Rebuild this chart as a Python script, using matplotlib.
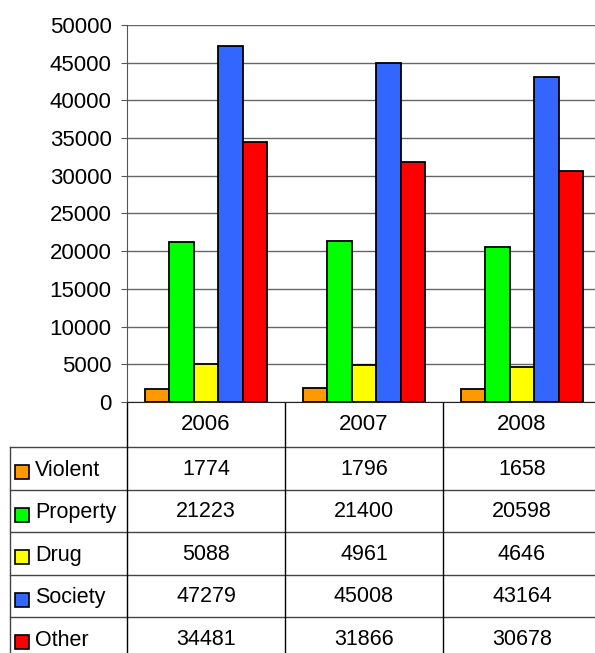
import matplotlib.pyplot as plt
from matplotlib.patches import Rectangle
from matplotlib.transforms import blended_transform_factory

plt.rcParams['font.family'] = ['Liberation Sans', 'DejaVu Sans']

years = ['2006', '2007', '2008']
categories = ['Violent', 'Property', 'Drug', 'Society', 'Other']
violent = [1774, 1796, 1658]
property_ = [21223, 21400, 20598]
drug = [5088, 4961, 4646]
society = [47279, 45008, 43164]
other = [34481, 31866, 30678]
colors = ['#ff9900', '#00ff00', '#ffff00', '#3366ff', '#ff0000']

W, H = 595, 653
fig = plt.figure(figsize=(W / 100, H / 100), dpi=100)
ax = fig.add_axes([127 / W, 1 - 402 / H, 474 / W, 377 / H])

series = [violent, property_, drug, society, other]
bw = 0.155
for i, (vals, c) in enumerate(zip(series, colors)):
    xs = [j + (i - 2) * bw for j in range(len(years))]
    ax.bar(xs, vals, width=bw, color=c, edgecolor='black', linewidth=1.3, zorder=3)

ax.set_xlim(-0.5, len(years) - 0.5)
ax.set_ylim(0, 50000)
ax.set_yticks(range(0, 50001, 5000))
ax.yaxis.grid(True, color='#666666', linewidth=1)
ax.set_axisbelow(True)
for s in ['top', 'right']:
    ax.spines[s].set_visible(False)
ax.spines['left'].set_color('#555555')
ax.spines['bottom'].set_color('#222222')
ax.tick_params(axis='y', length=4, color='#555555', labelsize=16, pad=7)
ax.set_xticks([])

# table under the chart
tab = fig.add_axes([0, 0, 1, 1], zorder=-1)
tab.set_xlim(0, W)
tab.set_ylim(H, 0)
tab.axis('off')
tr = blended_transform_factory(ax.transData, tab.transData)

top, head_bot, rh = 402, 447, 42.5
row_edges = [head_bot + k * rh for k in range(len(categories) + 1)]
for y in row_edges:
    tab.plot([10, W + 10], [y, y], color='#444444', lw=1, clip_on=False)
tab.plot([10, 10], [head_bot, H + 10], color='#444444', lw=1)
for j in range(len(years)):
    tab.plot([j - 0.5, j - 0.5], [top, H + 10], color='black', lw=1, transform=tr)
    tab.text(j, (top + head_bot) / 2, years[j], transform=tr, ha='center',
             va='center', fontsize=16)

for r, (name, vals, c) in enumerate(zip(categories, series, colors)):
    yc = (row_edges[r] + row_edges[r + 1]) / 2
    tab.add_patch(Rectangle((15, yc - 3), 14, 14, facecolor=c, edgecolor='black', lw=1.2))
    tab.text(35, yc + 2, name, ha='left', va='center', fontsize=15.5)
    for j, v in enumerate(vals):
        tab.text(j, yc + 1, str(v), transform=tr, ha='center', va='center', fontsize=15.5)

fig.savefig('out.png', dpi=100)
